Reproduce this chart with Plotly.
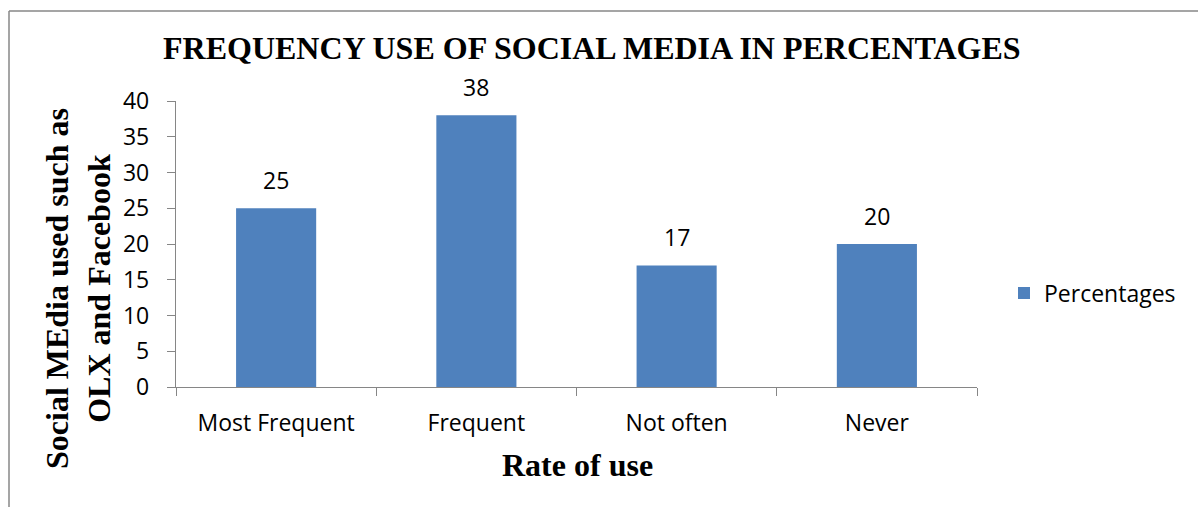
import plotly.graph_objects as go

categories = ["Most Frequent", "Frequent", "Not often", "Never"]
values = [25, 38, 17, 20]
series_name = "Percentages"
y_ticks = [0, 5, 10, 15, 20, 25, 30, 35, 40]

W, H = 1198, 507
L, R, T, B = 176, 977, 101, 387  # plot area in px

def px_x(px):
    return (px - L) / (R - L)

def px_y(py):
    return (B - py) / (B - T)

BAR = "#4F81BD"
AX = "#868686"
TICKFONT = dict(family="Open Sans", size=23, color="#000000")
SERIF = "Liberation Serif"

fig = go.Figure()
fig.add_trace(go.Bar(
    x=categories, y=values, name=series_name,
    marker=dict(color=BAR, line=dict(width=0)),
    showlegend=True,
))

label_anns = [
    dict(text=str(v), x=c, y=v, xref="x", yref="y", showarrow=False,
         xanchor="center", yanchor="middle", yshift=28,
         font=dict(family="Open Sans", size=23, color="#000000"))
    for c, v in zip(categories, values)
]

fig.update_layout(
    width=W, height=H,
    margin=dict(l=L, r=W - R, t=T, b=H - B, pad=0),
    paper_bgcolor="white", plot_bgcolor="white",
    bargap=0.6,
    showlegend=True,
    legend=dict(x=px_x(1004), y=px_y(293), xanchor="left", yanchor="middle",
                font=dict(family="Open Sans", size=23, color="#000000"),
                bgcolor="rgba(0,0,0,0)", itemwidth=30),
    xaxis=dict(showline=True, linecolor=AX, linewidth=1.3, ticks="outside",
               tickson="boundaries", ticklen=8, tickcolor=AX, tickwidth=1.3,
               showgrid=False, tickfont=TICKFONT, zeroline=False,
               ticklabelstandoff=15),
    yaxis=dict(range=[0, 40], tickvals=y_ticks, showline=True, linecolor=AX,
               linewidth=1.3, ticks="outside", ticklen=8, tickcolor=AX,
               tickwidth=1.3, showgrid=False, zeroline=False, tickfont=TICKFONT,
               ticklabelstandoff=13),
    annotations=label_anns + [
        dict(text="<b>FREQUENCY USE OF SOCIAL MEDIA IN PERCENTAGES</b>",
             xref="paper", yref="paper", x=px_x(592), y=px_y(48),
             xanchor="center", yanchor="middle", showarrow=False,
             font=dict(family=SERIF, size=32, color="#000000")),
        dict(text="<b>Social MEdia used such as<br>OLX and Facebook</b>",
             xref="paper", yref="paper", x=px_x(78), y=px_y(289),
             xanchor="center", yanchor="middle", showarrow=False, textangle=-90,
             font=dict(family=SERIF, size=32, color="#000000")),
        dict(text="<b>Rate of use</b>",
             xref="paper", yref="paper", x=px_x(577), y=px_y(465),
             xanchor="center", yanchor="middle", showarrow=False,
             font=dict(family=SERIF, size=32, color="#000000")),
    ],
    shapes=[
        dict(type="line", xref="paper", yref="paper", x0=px_x(9), x1=px_x(1300),
             y0=px_y(11), y1=px_y(11), line=dict(color="#878787", width=1.5)),
        dict(type="line", xref="paper", yref="paper", x0=px_x(9), x1=px_x(9),
             y0=px_y(11), y1=px_y(600), line=dict(color="#878787", width=1.5)),
    ],
)

fig.write_html("out.html")
